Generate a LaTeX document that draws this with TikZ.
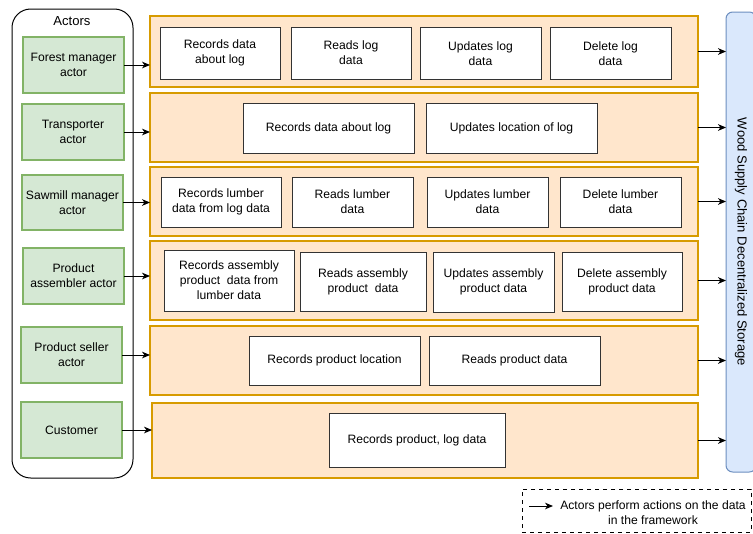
\documentclass[tikz,border=0pt]{standalone}
\usepackage{fontspec}
\setmainfont{Liberation Sans}
\usepackage{xcolor}
\usetikzlibrary{
    arrows.meta,
    positioning
}
\definecolor{actorfill}{HTML}{D5E8D4}
\definecolor{actorline}{HTML}{82B366}
\definecolor{rowfill}{HTML}{FFE6CC}
\definecolor{rowline}{HTML}{D79B00}
\definecolor{storefill}{HTML}{DAE8FC}
\definecolor{storeline}{HTML}{6C8EBF}
\tikzset{
    every node/.append style = {
        font = \fontsize{9.1}{11.2}\selectfont,
        align = center,
        inner sep = 0pt,
        outer sep = 0pt
    },
    wh/.style 2 args = {
        minimum width = #1*0.75pt,
        minimum height = #2*0.75pt
    },
    actorbox/.style = {draw=actorline, fill=actorfill, line width=1.5pt},
    rowbox/.style = {draw=rowline, fill=rowfill, line width=1.5pt},
    databox/.style = {draw=black!80, fill=white, line width=0.75pt},
    flow/.style = {
        -{Stealth[length=6pt, width=5pt, inset=1.8pt]},
        line width = 0.75pt
    }
}

\begin{document}
\begin{tikzpicture}[x=0.75pt, y=-0.75pt]
        \useasboundingbox (0,0) rectangle (753,533);

        % actors column
        \node[draw, line width=0.75pt, rounded corners=14pt, wh={121}{469}] (actors) at (72.5,243.5) {};
        \node[font=\fontsize{9.8}{12}\selectfont] (actorslabel) at (72,21) {Actors};

        \node[actorbox, wh={101}{56}] (fm) at (73.5,65) {Forest manager\\actor};
        \node[actorbox, wh={102}{56}] (tr) at (73,132) {Transporter\\actor};
        \node[actorbox, wh={101}{55}] (sm) at (72.5,202.5) {Sawmill manager\\actor};
        \node[actorbox, wh={101}{56}] (pa) at (73.5,276) {Product\\assembler actor};
        \node[actorbox, wh={101}{56}] (ps) at (71.5,355) {Product seller\\actor};
        \node[actorbox, wh={101}{56}] (cu) at (71.5,430) {Customer};

        % action rows
        \node[rowbox, wh={548}{71}] (rowa) at (424,51.5) {};
        \node[rowbox, wh={548}{69}] (rowb) at (424,127.5) {};
        \node[rowbox, wh={548}{69}] (rowc) at (424,201.5) {};
        \node[rowbox, wh={548}{79}] (rowd) at (424,280.5) {};
        \node[rowbox, wh={548}{69}] (rowe) at (424,360.5) {};
        \node[rowbox, wh={546}{75}] (rowf) at (425,440.5) {};

        \node[databox, wh={120}{52}] (a1) at (220,53) {Records data\\about log};
        \node[databox, wh={120}{52}] (a2) at (351,53) {Reads log\\data};
        \node[databox, wh={121}{52}] (a3) at (480.5,53.5) {Updates log\\data};
        \node[databox, wh={121}{52}] (a4) at (610.5,53.5) {Delete log\\data};

        \node[databox, wh={171}{50}] (b1) at (328.5,128) {Records data about log};
        \node[databox, wh={171}{50}] (b2) at (511.5,128) {Updates location of log};

        \node[databox, wh={120}{50}] (c1) at (221,202) {Records lumber\\data from log data};
        \node[databox, wh={121}{50}] (c2) at (352.5,202) {Reads lumber\\data};
        \node[databox, wh={121}{50}] (c3) at (487.5,202) {Updates lumber\\data};
        \node[databox, wh={121}{50}] (c4) at (620.5,202) {Delete lumber\\data};

        \node[databox, wh={130}{61}] (d1) at (229,280.5) {Records assembly\\product\ \ data from\\lumber data};
        \node[databox, wh={126}{59}] (d2) at (363,281.5) {Reads assembly\\product\ \ data};
        \node[databox, wh={121}{60}] (d3) at (493.5,282) {Updates assembly\\product data};
        \node[databox, wh={120}{59}] (d4) at (622,281.5) {Delete assembly\\product data};

        \node[databox, wh={171}{49}] (e1) at (334.5,360.5) {Records product location};
        \node[databox, wh={171}{49}] (e2) at (514.5,360.5) {Reads product data};

        \node[databox, wh={176}{54}] (f1) at (417,440) {Records product, log data};

        % storage
        \node[draw=storeline, fill=storefill, line width=0.75pt, rounded corners=5pt,
              wh={30}{460}] (store) at (741,242) {};
        \node[rotate=-90, font=\fontsize{9.8}{12}\selectfont] (storelabel) at (store.center)
            {Wood Supply Chain Decentralized Storage};

        % actors to rows
        \foreach \a/\r in {fm/rowa, tr/rowb, sm/rowc, pa/rowd, ps/rowe, cu/rowf}
            \draw[flow] (\a.east) -- (\a.east -| \r.west);

        % rows to storage
        \foreach \r in {rowa, rowb, rowc, rowd, rowe, rowf}
            \draw[flow] (\r.east) -- (\r.east -| store.west);

        % legend
        \node[draw, dashed, line width=0.6pt, wh={229}{43}] (legend) at (636.5,510.5) {};
        \coordinate (legA) at (529,506);
        \coordinate (legB) at (553,506);
        \draw[flow] (legA) -- (legB);
        \node (legtext) at (653,513) {Actors perform actions on the data\\in the framework};
    \end{tikzpicture}
\end{document}
